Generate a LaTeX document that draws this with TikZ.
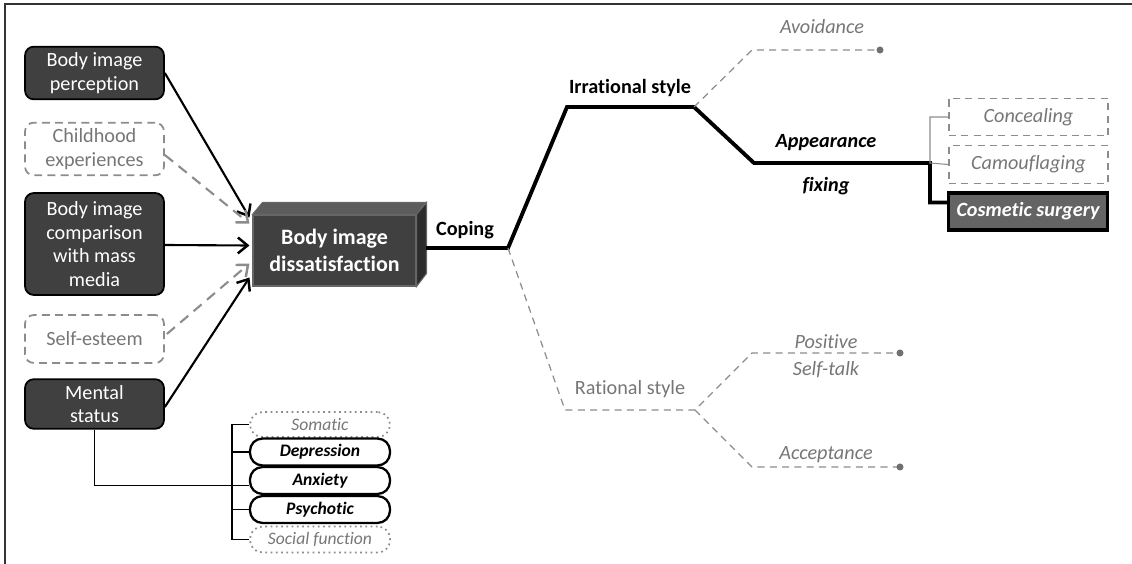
\documentclass[tikz,border=0pt]{standalone}
\usepackage{fontspec}
\setmainfont{Carlito}[Ligatures=NoCommon]
\usetikzlibrary{arrows.meta,calc}
\definecolor{boxdark}{RGB}{64,64,64}
\definecolor{boxtop}{RGB}{92,92,92}
\definecolor{boxside}{RGB}{44,44,44}
\definecolor{surgfill}{RGB}{100,100,100}
\definecolor{midgray}{RGB}{140,140,140}
\definecolor{txtgray}{RGB}{118,118,118}
\begin{document}
\begin{tikzpicture}[x=0.02cm, y=-0.02cm, >={Straight Barb[length=5.5pt,width=9pt,line width=1.4pt]},
    darkbox/.style={rectangle, rounded corners=5pt, draw=black, line width=1pt, fill=boxdark,
      text=white, align=center, minimum width=2.78cm, font=\fontsize{11.5}{13.5}\selectfont},
    lightbox/.style={rectangle, rounded corners=5pt, draw=midgray, line width=1pt,
      dash pattern=on 4.5pt off 3pt, text=txtgray, align=center, minimum width=2.78cm,
      font=\fontsize{11.5}{13.5}\selectfont},
    pill/.style={rectangle, rounded corners=7pt, minimum width=2.8cm, minimum height=0.5cm,
      font=\fontsize{10}{11}\selectfont\itshape},
    strong/.style={pill, draw=black, line width=1.3pt, font=\fontsize{10}{11}\selectfont\bfseries\itshape},
    faint/.style={pill, draw=midgray, line width=1pt, dotted, text=txtgray},
    sidebox/.style={rectangle, minimum width=3.18cm, minimum height=0.75cm,
      font=\fontsize{11.5}{13}\selectfont\itshape},
    solidarrow/.style={->, line width=1.2pt},
    greyarrow/.style={->, line width=1.2pt, midgray, dash pattern=on 6pt off 4pt},
    mainline/.style={line width=2.2pt},
    greyline/.style={line width=0.7pt, midgray, dash pattern=on 4pt off 3pt},
    lbl/.style={font=\fontsize{11.5}{13}\selectfont\bfseries},
    glbl/.style={font=\fontsize{11.5}{13}\selectfont\itshape, text=txtgray}]
  \useasboundingbox (0,0) rectangle (1132,564);
  \draw[line width=1.3pt, black!80] (5,564) -- (5,4) -- (1132,4);

  % causes
  \node[darkbox, minimum height=1cm] (per) at (94.5,73) {Body image\\perception};
  \node[lightbox, minimum height=0.96cm] (chi) at (94.5,149) {Childhood\\experiences};
  \node[darkbox, minimum height=2.04cm] (com) at (94.5,244) {Body image\\comparison\\with mass\\media};
  \node[lightbox, minimum height=0.96cm] (sel) at (94.5,339) {Self-esteem};
  \node[darkbox, minimum height=0.96cm] (men) at (94.5,404) {Mental\\status};

  % central box
  \node[rectangle, fill=boxdark, draw=black!60, line width=0.6pt, minimum width=3.26cm, minimum height=1.42cm,
    text=white, align=center, font=\fontsize{12.5}{15}\selectfont\bfseries] (dis) at (334.5,250.5)
    {Body image\\dissatisfaction};
  \fill[boxtop, draw=black!60, line width=0.6pt] (dis.north west) -- ++(10,-12) -- ++(163,0) -- (dis.north east) -- cycle;
  \fill[boxside, draw=black!60, line width=0.6pt] (dis.north east) -- ++(10,-12) -- ++(0,71) -- (dis.south east) -- cycle;

  \draw[solidarrow] (per.east) -- ($(dis.west)+(-3,-33)$);
  \draw[greyarrow] ($(chi.east)+(0,6)$) -- ($(dis.west)+(-3,-27)$);
  \draw[solidarrow] ($(com.east)+(0,1)$) -- ($(dis.west)+(-3,-5)$);
  \draw[greyarrow] ($(sel.east)+(2,-5)$) -- ($(dis.west)+(-3,13)$);
  \draw[solidarrow] ($(men.east)+(0,3)$) -- ($(dis.west)+(-3,27)$);

  % mental status subtypes
  \node[faint] (som) at (320,424.5) {Somatic};
  \node[strong] (dep) at (320,452) {Depression};
  \node[strong] (anx) at (320,480.5) {Anxiety};
  \node[strong] (psy) at (320,509.5) {Psychotic};
  \node[faint] (soc) at (320,539.5) {Social function};
  \draw[line width=0.8pt] (men.south) |- ($(anx.west)+(0,5)$);
  \draw[line width=0.8pt] (som.west) -- ++(-17,0) |- (soc.west);
  \foreach \n in {dep,psy}
    \draw[line width=0.8pt] (\n.west) -- ++(-17,0);

  % coping branches
  \coordinate (disR) at (426,248);
  \coordinate (cop) at (508,248);
  \coordinate (irr) at (567,107);
  \coordinate (irrE) at (694,107);
  \coordinate (app) at (754,163);
  \coordinate (appE) at (930,163);
  \coordinate (avo) at (752,50);
  \coordinate (avoE) at (880,50);
  \coordinate (rat) at (565,410);
  \coordinate (ratE) at (695,410);
  \coordinate (pos) at (752,353);
  \coordinate (posE) at (900,353);
  \coordinate (acc) at (752,467);
  \coordinate (accE) at (900,467);

  \node[sidebox, draw=midgray, line width=0.8pt, dash pattern=on 4pt off 3pt, text=txtgray] (con) at (1028.5,117) {Concealing};
  \node[sidebox, draw=midgray, line width=0.8pt, dash pattern=on 4pt off 3pt, text=txtgray] (cam) at (1028.5,164.5) {Camouflaging};
  \node[sidebox, draw=black, line width=2pt, fill=surgfill, text=white,
    font=\fontsize{11.5}{13}\selectfont\bfseries\itshape] (cos) at (1028,211.5) {Cosmetic surgery};

  \draw[mainline] (disR) -- (cop) -- (irr) -- (irrE) -- (app) -- (appE) |- ($(cos.west)+(0,-9)$);
  \draw[line width=0.6pt, midgray] (con.west) -| (appE) -- (cam.west);
  \draw[greyline] (irrE) -- (avo) -- (avoE);
  \fill[midgray!80!black] (avoE) circle (2pt);
  \draw[greyline] (cop) -- (rat) -- (ratE) -- (pos) -- (posE);
  \draw[greyline] (ratE) -- (acc) -- (accE);
  \fill[midgray!80!black] (posE) circle (2pt);
  \fill[midgray!80!black] (accE) circle (2pt);

  \node[lbl] (copl) at (465,230) {Coping};
  \node[lbl] (irrl) at (630,88) {Irrational style};
  \node[lbl, font=\fontsize{11.5}{13}\selectfont\bfseries\itshape] (appl) at (826,143) {Appearance};
  \node[lbl, font=\fontsize{11.5}{13}\selectfont\bfseries\itshape] (fixl) at (826,186) {fixing};
  \node[glbl] (avol) at (822,27) {Avoidance};
  \node[glbl, font=\fontsize{11.5}{13}\selectfont] (ratl) at (630,389) {Rational style};
  \node[glbl] (posl) at (826,342) {Positive};
  \node[glbl] (sell) at (826,370) {Self-talk};
  \node[glbl] (accl) at (826,455) {Acceptance};
\end{tikzpicture}
\end{document}
